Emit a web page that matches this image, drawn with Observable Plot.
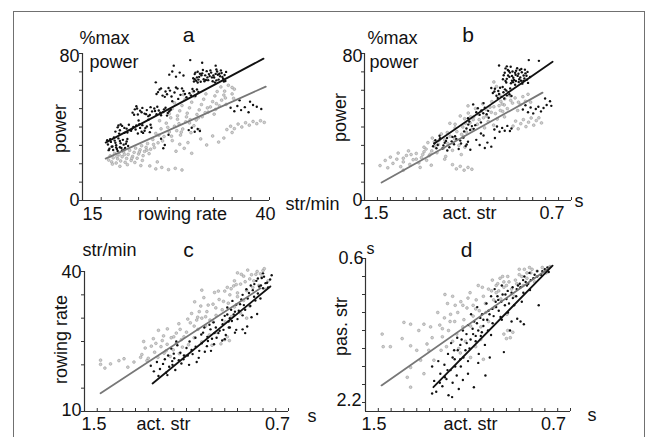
<!DOCTYPE html>
<html><head><meta charset="utf-8">
<script src="https://cdn.jsdelivr.net/npm/d3@7"></script>
<script src="https://cdn.jsdelivr.net/npm/@observablehq/plot@0.6"></script>
<style>
html,body{margin:0;padding:0;background:#fff;}
#fig{position:relative;width:648px;height:437px;overflow:hidden;font-family:"Liberation Sans",Arial,sans-serif;background:#fff;}
#frame{position:absolute;left:13px;top:11px;width:632px;height:460px;border:1.5px solid #707070;border-bottom:none;box-sizing:border-box;}
</style></head><body><div id="fig"><div id="frame"></div></div>
<script>
// ---------- tick values ----------
const rateTicksA = [15,17.5,20,22.5,25,27.5,30,32.5,35,37.5,40];
const powerTicks = [0,10,20,30,40,50,60,70,80];
const actTicks = [1.5,1.45,1.4,1.35,1.3,1.25,1.2,1.15,1.1,1.05,1,0.95,0.9,0.85,0.8,0.75,0.7];
const rateTicksC = [10,15,20,25,30,35,40];
const pasTicks = [0.6,0.8,1.0,1.2,1.4,1.6,1.8,2.0,2.2];

// ---------- labels ----------
const letters = ["a","b","c","d"];
const yUnits = ["%max","%max","str/min","s"];
const yNames = ["power","power","rowing rate","pas. str"];
const innerNames = ["power","power"];
const xNames = ["rowing rate","act. str","act. str","act. str"];
const xUnits = ["str/min","s","s","s"];
const xEndLabels = [["15","40"],["1.5","0.7"],["1.5","0.7"],["1.5","0.7"]];
const yEndLabels = [["0","80"],["0","80"],["10","40"],["2.2","0.6"]];

// ---------- panel a: power vs rowing rate ----------
const aBlack = [[18.4,30.5],[18.6,28.2],[18.8,31.9],[19.0,29.4],[19.1,27.5],[19.3,32.6],[19.5,30.1],[19.6,28.0],[19.8,33.8],[20.0,29.0],[20.1,31.2],[20.3,27.3],[20.5,30.4],[20.7,28.6],[20.9,32.1],[21.1,29.7],[19.2,34.3],[20.4,33.0],
[18.7,33.4],[19.5,28.9],[20.0,32.4],[20.6,27.8],[21.0,33.5],[18.5,27.4],
[19.4,37.5],[19.7,39.8],[20.0,38.2],[20.3,40.6],[20.6,36.8],[20.9,39.1],[21.2,41.2],[21.5,37.9],[21.8,40.0],[22.1,38.6],[22.4,36.5],[22.7,39.5],[23.0,41.0],[23.3,38.0],[23.6,40.3],[24.0,37.2],[24.2,39.6],[21.0,37.0],[22.9,37.4],[20.1,41.4],
[19.8,40.8],[21.3,38.3],[22.2,40.9],[23.1,36.8],[24.1,41.2],
[21.7,47.8],[22.0,49.6],[22.4,46.8],[22.7,48.9],[23.0,50.4],[23.3,47.3],[23.6,49.2],[24.0,46.5],[24.3,48.5],[24.6,50.1],[24.9,47.0],[25.2,49.0],[25.5,46.4],[25.8,48.2],[26.1,50.5],[26.4,47.6],[26.8,49.4],[22.2,51.3],[25.0,51.0],[23.8,45.9],
[22.3,50.1],[23.5,47.0],[24.7,48.7],[25.9,49.6],[26.3,46.2],
[24.9,58.0],[25.3,60.4],[25.7,57.1],[26.1,59.3],[26.5,61.2],[26.9,56.6],[27.3,58.8],[27.7,60.9],[28.1,57.5],[28.5,59.6],[28.9,56.2],[29.3,58.4],[29.7,60.7],[30.1,57.0],[30.5,59.1],[24.8,64.3],[27.0,54.0],[27.8,55.3],
[25.5,61.0],[26.7,59.8],[28.3,61.0],[29.5,57.2],[30.3,60.4],
[29.8,66.5],[30.0,68.8],[30.2,65.2],[30.4,70.1],[30.6,67.3],[30.8,64.6],[31.0,69.2],[31.2,66.0],[31.4,68.1],[31.6,70.4],[31.8,65.5],[32.0,67.7],[32.2,69.6],[32.4,64.9],[32.6,66.9],[32.8,68.9],[33.0,70.2],[33.2,65.8],[33.4,67.6],[33.6,69.4],[33.8,66.3],[34.0,68.3],[31.1,71.0],[32.9,71.3],[30.3,67.0],
[30.1,69.6],[30.5,65.8],[30.9,68.2],[31.3,64.9],[31.7,67.0],[32.1,70.8],[32.5,68.0],[32.9,65.4],[33.3,69.0],[33.7,67.2],[34.1,65.0],[34.2,70.0],[29.9,64.8],
[30.0,66.0],[30.7,69.0],[31.5,65.6],[32.3,67.0],[33.1,68.4],[33.9,64.8],[31.9,68.8],[30.4,64.2],[32.7,64.3],[33.5,70.8],
[25.1,59.0],[26.3,57.8],[27.5,61.5],[28.7,58.0],[29.9,59.5],[26.0,56.4],
[22.9,48.0],[24.1,50.8],[25.4,47.8],[26.6,48.6],[21.9,46.7],
[20.6,39.5],[21.6,39.0],[22.6,41.5],[23.4,39.4],[19.9,36.4],
[18.9,29.3],[19.4,31.4],[20.2,28.6],[20.8,30.9],[19.7,27.0],[18.3,32.8],
[26.6,68.5],[27.0,70.2],[27.5,67.4],[28.0,69.6],[28.5,68.0],
[27.2,73.4],[29.4,76.4],[31.0,75.0],[32.8,73.4],
[29.2,38.3],[29.6,39.6],[30.0,37.4],[30.4,38.9],[30.7,37.8],
[34.8,50.5],[35.3,48.6],[35.7,51.4],[36.2,49.2],[36.7,50.8],[37.2,48.0],[37.8,52.0],[38.3,51.0],[38.9,49.8],[36.0,54.5],[37.4,53.8],
[25.5,33.6],[26.0,30.2],[26.5,35.8],[25.8,28.4],[22.5,43.5],[23.8,44.0]];
const aGray = [[18.5,22.0],[18.7,24.3],[18.9,21.0],[19.1,23.2],[19.3,25.6],[19.5,20.4],[19.7,22.7],[19.9,24.9],[20.1,21.5],[20.3,23.8],[20.5,26.4],[20.7,20.8],[20.9,22.9],[21.1,25.1],[21.3,27.3],[21.5,21.8],[21.7,24.0],[21.9,26.2],[22.1,28.5],[22.3,23.0],[22.5,25.3],[22.7,27.6],[22.9,29.8],[23.1,24.4],[23.3,26.7],[23.5,28.9],[23.7,31.0],[23.9,25.5],[24.1,27.9],[19.0,19.8],
[19.6,23.9],[20.6,25.0],[21.6,23.0],[22.6,26.4],[23.6,27.4],[24.5,30.5],[25.7,32.4],[26.9,35.0],[28.2,37.2],[29.3,42.2],[30.5,45.0],[31.7,50.4],[32.9,52.7],[34.1,55.8],[35.0,61.5],
[21.0,19.5],[22.0,20.7],[23.0,21.8],[20.0,18.6],[22.8,19.0],
[24.0,18.8],[24.8,17.2],[25.6,18.0],[26.5,16.8],[27.4,17.5],[28.3,16.6],[25.0,21.0],
[24.4,33.2],[24.8,36.5],[25.1,31.4],[25.5,39.0],[25.9,34.8],[26.2,42.1],[26.6,37.3],[27.0,32.6],[27.3,40.4],[27.7,44.2],[28.1,35.6],[28.4,38.9],[28.8,42.8],[29.1,31.5],[29.5,36.9],[29.9,40.7],[26.8,45.0],[28.0,30.6],[25.3,43.4],[24.6,28.8],
[25.2,35.5],[26.4,39.8],[27.6,38.0],[28.9,45.5],[30.2,43.8],[31.4,47.8],[32.8,49.6],[34.2,52.3],[35.2,55.6],[29.4,44.0],[27.9,41.8],[30.6,38.5],
[26.6,47.2],[27.0,50.0],[27.3,53.1],[27.7,46.1],[28.0,48.8],[28.3,51.7],[28.7,55.0],[29.0,47.5],[29.3,50.4],[29.6,53.5],[30.0,56.6],[30.3,46.8],[30.6,49.3],[30.9,52.2],[31.2,55.1],[31.5,58.0],[31.8,48.1],[32.1,50.9],[32.4,53.8],[32.7,56.9],[33.0,59.3],[33.3,51.5],[33.6,54.6],[33.9,57.4],[31.0,45.6],[29.8,59.2],[28.5,57.6],[32.6,47.0],
[33.5,61.8],[34.0,59.5],[34.5,62.7],[35.0,58.0],[35.3,60.6],
[34.3,38.6],[34.8,40.4],[35.3,39.1],[35.8,41.6],[36.3,40.0],[36.8,42.3],[37.3,41.0],[37.8,43.0],[38.3,41.8],[38.8,43.4],[39.3,42.5],[35.0,37.0],
[30.8,33.5],[31.6,30.2],[32.4,35.1],[33.2,31.8],[33.9,34.0],[27.5,26.8],[28.6,28.4],[29.6,25.7]];
const aBlackLine = [[18.1,31.5],[39.2,77.2]];
const aGrayLine = [[18.1,22.8],[39.5,62.0]];

// ---------- panel b: power vs active stroke time ----------
const bBlack = [[0.965,66.0],[0.958,69.5],[0.952,64.2],[0.946,71.0],[0.940,67.3],[0.934,63.8],[0.928,70.2],[0.922,65.6],[0.916,68.4],[0.910,72.0],[0.904,64.5],[0.898,67.0],[0.892,69.8],[0.886,65.1],[0.880,71.2],[0.874,67.9],[0.868,64.0],[0.925,66.8],[0.905,69.0],[0.945,68.0],[0.890,63.6],[0.935,72.8],[0.915,65.0],[0.878,69.2],[0.955,71.9],
[0.962,68.2],[0.950,66.2],[0.938,69.6],[0.926,64.4],[0.914,70.6],[0.902,66.0],[0.894,71.6],[0.882,66.4],[0.870,70.0],[0.930,67.8],[0.918,63.0],[0.908,67.8],
[0.955,65.0],[0.942,70.5],[0.930,65.2],[0.918,69.5],[0.900,71.0],[0.885,68.0],[0.872,65.8],[0.860,67.2],[0.950,73.0],[0.895,65.2],
[0.865,76.4],[0.826,76.0],[0.980,73.5],
[1.004,58.5],[0.996,60.8],[0.990,57.0],[0.983,59.6],[0.976,61.4],[0.970,56.4],[0.963,58.9],[0.957,60.5],[0.950,57.2],[0.944,59.0],[0.937,61.0],[0.932,56.9],[0.985,55.8],[0.960,55.5],[1.010,61.2],
[0.998,59.3],[0.980,58.0],[0.966,61.8],[0.952,59.8],[0.940,57.8],
[1.068,48.0],[1.062,50.2],[1.055,46.6],[1.048,49.0],[1.041,47.5],[1.035,50.5],[1.028,46.9],[1.022,48.8],[1.080,52.3],[1.040,53.0],
[1.106,39.2],[1.099,41.3],[1.092,38.4],[1.085,40.5],[1.078,39.0],[1.072,41.0],[1.095,43.0],[1.115,37.6],
[1.235,29.5],[1.226,32.8],[1.217,30.2],[1.208,33.9],[1.199,28.3],[1.190,31.4],[1.181,34.0],[1.172,29.0],[1.163,32.2],[1.154,30.6],[1.145,33.5],[1.136,28.0],[1.127,31.0],[1.118,34.2],[1.109,29.6],[1.100,32.0],[1.091,27.6],[1.180,27.2],[1.150,35.0],[1.210,35.2],
[1.230,31.0],[1.195,30.0],[1.160,34.6],[1.130,32.6],[1.105,30.5],[1.185,32.4],[1.222,28.4],
[0.888,49.5],[0.878,51.8],[0.868,48.0],[0.858,50.6],[0.848,47.4],[0.838,49.8],[0.828,51.0],[0.818,48.5],[0.808,50.3],[0.796,52.0],[0.802,55.5],[0.783,54.0],[0.778,51.5],
[0.998,38.6],[0.988,40.3],[0.978,37.4],[0.968,39.5],[0.958,38.0],[0.948,40.6],[0.938,37.8],[0.932,39.2],
[1.068,33.0],[1.055,30.2],[1.040,35.4],[1.025,31.5],[1.010,29.3],[0.996,34.0],[1.050,36.5],[1.035,28.6],
[1.050,42.5],[1.100,44.8],[1.020,45.0]];
const bGray = [[1.440,19.0],[1.420,21.8],[1.400,23.6],[1.390,20.2],[1.375,22.5],[1.360,18.4],[1.350,21.0],[1.338,24.5],[1.325,19.6],[1.312,22.2],[1.300,25.6],[1.290,20.5],[1.280,23.3],[1.270,26.5],[1.260,21.9],[1.250,24.4],[1.242,19.2],[1.330,27.0],[1.285,18.0],[1.370,25.8],[1.410,17.8],[1.350,16.5],
[1.350,23.0],[1.320,25.0],[1.270,29.0],[1.230,32.0],[1.180,37.0],[1.150,41.5],[1.090,45.5],[1.040,45.0],[1.010,48.0],[0.960,52.0],[0.935,54.5],[0.905,53.5],
[1.262,28.0],[1.255,31.5],[1.246,25.2],[1.238,34.0],[1.229,29.4],[1.220,26.0],[1.212,32.7],[1.203,36.2],[1.195,28.5],[1.186,24.0],[1.178,31.0],[1.169,35.0],[1.160,27.3],[1.152,33.6],[1.143,37.5],[1.135,30.0],[1.126,25.0],[1.118,34.8],[1.112,29.0],[1.190,22.5],
[1.120,40.0],[1.113,44.5],[1.106,37.2],[1.099,47.6],[1.092,42.3],[1.085,38.8],[1.078,45.5],[1.071,50.0],[1.064,41.5],[1.057,44.0],[1.050,48.4],[1.043,52.6],[1.036,39.5],[1.029,46.0],[1.022,43.0],[1.015,50.8],[1.008,53.8],[1.001,41.0],[0.994,47.3],[0.987,44.3],[0.980,51.6],[0.973,54.0],[0.966,48.5],[0.959,45.5],[1.100,51.5],[1.130,46.0],
[1.110,42.0],[1.080,44.0],[1.060,47.0],[1.030,49.5],[1.000,51.0],[0.975,49.0],[1.125,36.0],[1.190,33.0],[1.215,30.5],[1.240,27.0],[1.275,25.0],[1.300,22.5],
[0.978,57.5],[0.968,52.5],[0.958,55.3],[0.948,50.0],[0.938,57.0],[0.928,53.0],[0.918,55.8],[0.908,49.0],[0.898,52.2],[0.888,56.5],[0.878,54.0],[0.868,57.8],[0.858,53.5],[0.990,62.0],[1.000,64.5],
[0.926,40.5],[0.916,43.2],[0.906,39.0],[0.896,41.8],[0.886,44.0],[0.876,40.2],[0.866,42.6],[0.856,44.9],[0.846,41.0],[0.836,43.5],[0.826,45.0],[0.816,42.2],
[1.160,19.5],[1.145,17.2],[1.130,18.6],[1.115,16.5],[1.100,18.0],[1.085,17.0],[1.170,42.0],[1.150,39.5]];
const bBlackLine = [[1.23,31.0],[0.773,75.5]];
const bGrayLine = [[1.434,9.8],[0.812,58.7]];

// ---------- panel c: rowing rate vs active stroke time ----------
const cBlack = [[1.240,19.8],[1.228,18.6],[1.216,20.6],[1.204,19.1],[1.192,20.2],[1.180,18.3],[1.168,19.6],[1.156,20.8],[1.144,18.9],[1.210,17.6],[1.175,17.8],
[1.185,21.2],[1.155,20.0],[1.130,21.0],[1.095,22.0],[1.065,25.8],[1.035,26.9],[1.010,28.6],[0.985,28.0],[0.960,29.6],[0.940,30.8],[0.925,31.8],[0.905,32.9],[0.885,34.0],[0.865,36.2],[0.848,37.0],[0.826,38.0],[0.805,38.6],[0.780,36.6],
[1.172,22.0],[1.160,23.5],[1.148,21.4],[1.136,24.2],[1.124,22.6],[1.112,21.2],[1.100,23.6],[1.088,25.0],[1.076,22.3],[1.064,23.9],[1.052,21.5],[1.040,24.6],[1.028,22.8],[1.016,25.1],[1.004,23.0],[0.992,24.4],[1.120,20.3],[1.060,20.6],[1.140,25.0],[1.090,20.0],
[1.150,22.4],[1.110,22.0],[1.080,23.2],[1.050,23.0],[1.020,24.0],[1.000,25.6],[0.975,26.8],[0.955,27.5],[0.935,29.3],[0.915,30.8],[0.895,31.6],[0.875,32.8],[0.855,35.4],[0.835,34.6],[0.815,36.8],[0.790,37.5],
[1.042,26.5],[1.030,28.0],[1.018,26.0],[1.006,27.6],[0.994,29.1],[0.982,25.8],[0.970,27.3],[0.958,28.7],[0.946,26.4],[0.934,28.0],[0.922,29.4],[0.910,26.9],[0.990,26.8],[0.950,25.5],
[0.950,30.5],[0.940,32.3],[0.930,30.0],[0.920,33.7],[0.910,31.4],[0.900,29.8],[0.890,33.0],[0.880,35.0],[0.870,31.8],[0.860,34.2],[0.850,32.6],[0.840,36.0],[0.830,33.8],[0.820,35.3],[0.810,34.2],[0.800,36.4],[0.880,30.6],[0.845,30.2],
[0.834,37.3],[0.820,38.5],[0.808,37.0],[0.796,38.9],[0.784,37.6],[0.772,38.3],[0.766,39.2],[0.800,39.6],
[0.930,28.0],[0.905,27.5],[0.880,27.6],[0.862,28.2],[0.823,30.9],[0.960,25.2],[0.870,26.8]];
const cGray = [[1.437,21.0],[1.437,20.1],[1.398,20.2],[1.365,20.9],[1.345,21.3],[1.306,20.6],[1.280,21.6],[1.255,20.9],[1.420,19.3],[1.330,19.5],
[1.275,22.2],[1.262,23.6],[1.250,21.4],[1.238,24.0],[1.225,22.7],[1.212,21.6],[1.200,23.9],[1.188,22.5],[1.176,24.4],[1.164,21.8],[1.152,23.2],[1.140,24.6],[1.128,22.4],[1.116,23.8],[1.104,21.9],[1.092,24.3],[1.268,25.0],[1.230,25.6],[1.195,25.2],
[1.220,24.6],[1.190,26.2],[1.160,25.8],[1.125,27.6],[1.095,29.8],[1.050,31.4],[1.025,30.3],[0.975,35.8],[0.940,36.6],[0.915,36.9],[0.885,39.4],[0.836,38.0],[0.800,40.2],
[1.180,23.0],[1.140,26.8],[1.110,26.0],[1.070,28.3],[1.040,30.0],[1.015,32.8],[0.985,32.2],[0.955,33.6],[0.930,35.0],[0.905,37.2],[0.870,37.8],[0.845,39.3],[0.810,39.5],[0.795,40.6],
[1.210,27.4],[1.175,27.7],[1.130,28.8],[1.150,26.0],[1.120,25.4],[1.100,27.0],[1.085,29.0],[1.070,25.8],[1.055,27.6],[1.040,24.9],[1.025,28.3],[1.010,26.4],[0.995,29.2],[0.980,27.0],[0.965,24.5],[1.060,29.6],[1.000,24.2],
[1.080,31.0],[1.068,33.5],[1.056,30.2],[1.044,32.6],[1.032,34.4],[1.020,31.4],[1.008,29.6],[0.996,33.0],[0.984,30.6],[0.972,34.0],[0.960,31.8],[0.948,29.2],[0.936,33.2],[0.924,30.3],[0.912,32.4],[0.900,34.6],[0.888,31.1],[0.876,33.8],[0.864,30.0],[0.852,32.6],[0.990,35.5],[0.950,35.8],[1.040,36.0],
[0.925,36.3],[0.912,38.0],[0.900,35.4],[0.888,37.3],[0.876,39.0],[0.864,35.9],[0.852,38.4],[0.840,36.6],[0.828,39.4],[0.816,37.0],[0.804,38.8],[0.792,36.2],[0.780,38.0],[0.823,40.0],[0.860,40.3],[0.900,39.7],
[0.950,25.4],[0.940,26.0],[0.932,25.2]];
const cBlackLine = [[1.233,16.0],[0.771,36.8]];
const cGrayLine = [[1.437,13.9],[0.810,36.4]];

// ---------- panel d: passive vs active stroke time ----------
const dBlack = [[1.240,1.80],[1.232,1.96],[1.224,2.08],[1.216,1.74],[1.208,1.88],[1.200,2.02],[1.192,1.78],[1.184,1.94],[1.176,2.12],[1.168,1.84],[1.160,1.98],[1.152,1.72],[1.144,1.90],[1.136,2.05],[1.128,1.80],[1.120,1.95],[1.240,2.10],[1.162,2.14],[1.077,2.03],[1.032,1.90],[1.100,1.88],
[1.210,1.98],[1.180,1.84],[1.160,1.70],[1.140,1.62],[1.125,1.50],[1.105,1.54],[1.080,1.44],[1.065,1.32],[1.045,1.22],[1.025,1.28],[1.005,1.16],[0.985,1.02],[0.965,1.00],[0.945,0.96],[0.925,1.04],[0.905,0.90],[0.885,0.84],[0.865,0.88],[0.840,0.78],[0.810,0.74],
[1.190,1.92],[1.150,1.80],[1.110,1.62],[1.090,1.50],[1.060,1.40],[1.040,1.28],[1.020,1.18],[0.990,1.14],[0.970,1.08],[0.950,1.05],[0.930,0.98],[0.910,0.94],[0.895,0.92],[0.875,0.86],[0.855,0.84],[0.830,0.80],[1.000,1.24],[1.070,1.46],[1.130,1.72],
[1.178,1.66],[1.166,1.54],[1.154,1.62],[1.142,1.48],[1.130,1.56],[1.118,1.70],[1.106,1.44],[1.094,1.60],[1.082,1.38],[1.070,1.52],[1.058,1.66],[1.046,1.42],[1.034,1.56],[1.022,1.40],[1.015,1.70],[1.100,1.74],[1.060,1.76],[1.120,1.40],
[1.100,1.34],[1.088,1.22],[1.076,1.30],[1.064,1.14],[1.052,1.26],[1.040,1.35],[1.028,1.10],[1.016,1.22],[1.004,1.32],[0.992,1.08],[0.980,1.18],[0.968,1.28],[0.956,1.12],[0.944,1.20],[0.936,1.40],[1.010,1.45],[1.050,1.46],
[1.010,1.02],[0.996,0.94],[0.982,1.06],[0.968,0.90],[0.954,1.00],[0.940,1.10],[0.926,0.92],[0.912,1.02],[0.898,0.88],[0.884,0.98],[0.870,0.90],[0.858,0.95],[0.920,1.12],[0.890,1.08],
[0.880,0.80],[0.860,0.76],[0.845,0.82],[0.830,0.74],[0.815,0.78],[0.800,0.72],[0.785,0.75],[0.790,0.70],
[0.960,1.64],[0.824,1.12],[0.882,1.33],[0.973,1.25],[0.908,1.27],[0.930,1.30],[0.895,1.30]];
const dGray = [[1.435,1.44],[1.431,1.58],[1.403,1.58],[1.350,1.31],[1.324,1.33],[1.357,1.49],[1.324,1.57],[1.292,1.40],[1.272,1.33],[1.246,1.36],[1.260,1.55],[1.285,1.73],[1.324,1.81],[1.337,1.92],[1.324,2.03],[1.272,1.88],[1.233,1.73],[1.253,1.62],
[1.218,1.20],[1.210,1.34],[1.200,1.47],[1.192,1.26],[1.184,1.58],[1.176,1.40],[1.168,1.22],[1.160,1.52],[1.152,1.30],[1.144,1.44],[1.136,1.60],[1.205,1.62],[1.180,1.10],[1.190,1.00],[1.160,1.02],
[1.000,1.06],[1.030,1.20],[1.070,1.16],[0.990,0.90],[0.965,0.80],[0.940,0.86],[0.900,0.72],[0.850,0.72],[1.120,1.36],[1.150,1.12],[1.240,1.48],[1.300,1.62],
[1.120,1.12],[1.100,1.04],[1.080,1.12],[1.040,1.02],[1.020,0.94],[0.980,0.96],[0.950,0.90],[0.910,0.88],[0.890,0.80],[0.870,0.76],[1.170,1.30],[1.200,1.38],
[1.140,1.20],[1.128,1.08],[1.116,1.28],[1.104,1.15],[1.092,0.98],[1.080,1.24],[1.068,1.06],[1.056,1.18],[1.044,0.92],[1.032,1.10],[1.020,1.30],[1.008,0.96],[0.996,1.14],[0.984,0.88],[0.972,1.05],[0.960,0.92],[0.948,1.22],[1.060,0.90],[1.090,1.35],[1.050,1.36],
[1.005,0.84],[0.990,0.98],[0.975,0.82],[0.960,0.86],[0.945,0.80],[0.930,0.94],[0.915,0.84],[0.900,0.78],[0.885,0.90],[0.870,0.82],[0.855,0.76],[0.840,0.86],[0.880,0.72],[0.860,0.70],[0.830,0.74],[0.810,0.70],[0.795,0.76],[0.780,0.69],[0.920,1.02],
[0.960,1.44],[0.950,1.49],[0.935,1.48],[0.925,1.42],[0.945,1.40],
[1.130,1.65],[1.110,1.52],[1.090,1.70],[1.070,1.58],[1.050,1.50],[1.040,1.72]];
const dBlackLine = [[1.235,2.03],[0.770,0.68]];
const dGrayLine = [[1.4375,2.01],[0.775,0.69]];

// ---------- rendering ----------
const FONT = '"Liberation Sans", Arial, sans-serif';
const INK = "#111";
const AX = "#333";

function label(text, anchor, ta, dx, dy, extra = {}) {
  return Plot.text([text], {frameAnchor: anchor, textAnchor: ta, lineAnchor: "middle", dx, dy, fill: INK, fontSize: 18, ...extra});
}

function panel({left, top, width, height, margins, xDomain, yDomain, xTicks, yTicks, gray, black, grayLine, blackLine, texts}) {
  const [ml, mr, mt, mb] = margins;
  const fw = width - ml - mr, fh = height - mt - mb;
  const chart = Plot.plot({
    width, height,
    marginLeft: ml, marginRight: mr, marginTop: mt, marginBottom: mb,
    style: {background: "transparent", overflow: "visible", fontFamily: FONT, fontSize: "18px", color: INK},
    x: {domain: xDomain, axis: null},
    y: {domain: yDomain, axis: null},
    marks: [
      Plot.tickX(xTicks, {x: d => d, stroke: AX, strokeWidth: 1, insetTop: fh - 3}),
      Plot.tickY(yTicks, {y: d => d, stroke: AX, strokeWidth: 1, insetRight: fw - 3, dx: -3}),
      Plot.ruleY([yDomain[0]], {stroke: AX, strokeWidth: 1.2}),
      Plot.ruleX([xDomain[0]], {stroke: AX, strokeWidth: 1.2}),
      Plot.dot(gray, {x: d => d[0], y: d => d[1], r: 1.4, fill: "#cfcfcf", stroke: "#8f8f8f", strokeWidth: 0.5}),
      Plot.dot(black, {x: d => d[0], y: d => d[1], r: 1.2, fill: INK}),
      Plot.line(grayLine, {x: d => d[0], y: d => d[1], stroke: "#777", strokeWidth: 1.8}),
      Plot.line(blackLine, {x: d => d[0], y: d => d[1], stroke: INK, strokeWidth: 1.8}),
      ...texts
    ]
  });
  chart.style.position = "absolute";
  chart.style.left = left + "px";
  chart.style.top = top + "px";
  document.getElementById("fig").appendChild(chart);
}

// panel a
panel({
  left: 0, top: 0, width: 324, height: 218, margins: [82, 55, 53, 18],
  xDomain: [15, 40], yDomain: [0, 80], xTicks: rateTicksA, yTicks: powerTicks,
  gray: aGray, black: aBlack, grayLine: aGrayLine, blackLine: aBlackLine,
  texts: [
    label(letters[0], "top", "middle", 12.5, -18, {fontSize: 21}),
    label(yUnits[0], "top-left", "start", -3, -15),
    label(innerNames[0], "top-left", "start", 7, 9),
    label(yEndLabels[0][1], "top-left", "end", -3, 3),
    label(yEndLabels[0][0], "bottom-left", "end", -3, 0),
    label(xEndLabels[0][0], "bottom-left", "start", 0, 14),
    label(xNames[0], "bottom", "middle", 6.5, 14),
    label(xEndLabels[0][1], "bottom-right", "middle", -4, 14),
    label(xUnits[0], "bottom-right", "start", 16, 4),
    label(yNames[0], "left", "middle", -22, 1.5, {rotate: -90})
  ]
});

// panel b
panel({
  left: 324, top: 0, width: 324, height: 218, margins: [40, 77, 53, 18],
  xDomain: [1.5, 0.7], yDomain: [0, 80], xTicks: actTicks, yTicks: powerTicks,
  gray: bGray, black: bBlack, grayLine: bGrayLine, blackLine: bBlackLine,
  texts: [
    label(letters[1], "top", "middle", 0, -18, {fontSize: 21}),
    label(yUnits[1], "top-left", "start", 3, -15),
    label(innerNames[1], "top-left", "start", 5, 9),
    label(yEndLabels[1][1], "top-left", "end", -2, 3),
    label(yEndLabels[1][0], "bottom-left", "end", -2, 0),
    label(xEndLabels[1][0], "bottom-left", "start", -1, 13),
    label(xNames[1], "bottom", "middle", 1.5, 13),
    label(xEndLabels[1][1], "bottom-right", "end", -7, 13),
    label(xUnits[1], "bottom-right", "start", 3, 1),
    label(yNames[1], "left", "middle", -24, -9.5, {rotate: -90})
  ]
});

// panel c
panel({
  left: 0, top: 218, width: 324, height: 219, margins: [84, 36, 53, 26],
  xDomain: [1.5, 0.7], yDomain: [10, 40], xTicks: actTicks, yTicks: rateTicksC,
  gray: cGray, black: cBlack, grayLine: cGrayLine, blackLine: cBlackLine,
  texts: [
    label(letters[2], "top", "middle", 2, -21, {fontSize: 21}),
    label(yUnits[2], "top-left", "start", -2, -21),
    label(yEndLabels[2][1], "top-left", "end", -3, 1),
    label(yEndLabels[2][0], "bottom-left", "end", -3, -1),
    label(xEndLabels[2][0], "bottom-left", "start", -3, 13),
    label(xNames[2], "bottom", "middle", -23, 13),
    label(xEndLabels[2][1], "bottom-right", "middle", -11, 13),
    label(xUnits[2], "bottom-right", "start", 19, 5),
    label(yNames[2], "left", "middle", -23, -2, {rotate: -90})
  ]
});

// panel d
panel({
  left: 324, top: 218, width: 324, height: 219, margins: [41, 78, 40, 26],
  xDomain: [1.5, 0.7], yDomain: [2.3, 0.6], xTicks: actTicks, yTicks: pasTicks,
  gray: dGray, black: dBlack, grayLine: dGrayLine, blackLine: dBlackLine,
  texts: [
    label(letters[3], "top", "middle", -1.5, -8, {fontSize: 21}),
    label(yEndLabels[3][1], "top-left", "end", -2, 0),
    label(yUnits[3], "top-left", "start", 1, -10, {fontSize: 16}),
    label(yEndLabels[3][0], "bottom-left", "end", -4, -11),
    label(xEndLabels[3][0], "bottom-left", "start", -4, 13),
    label(xNames[3], "bottom", "middle", 2.5, 13),
    label(xEndLabels[3][1], "bottom-right", "middle", -17, 13),
    label(xUnits[3], "bottom-right", "start", 17, 4),
    label(yNames[3], "left", "middle", -24, -8.5, {rotate: -90})
  ]
});
</script></body></html>
